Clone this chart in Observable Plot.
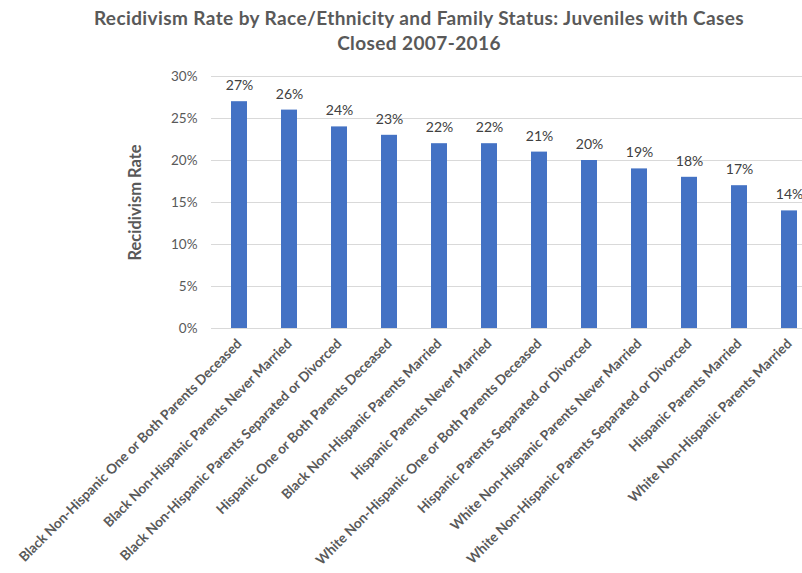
<!DOCTYPE html>
<html>
<head>
<meta charset="utf-8">
<script src="https://cdn.jsdelivr.net/npm/d3@7"></script>
<script src="https://cdn.jsdelivr.net/npm/@observablehq/plot@0.6"></script>
<style>
  html, body { margin: 0; padding: 0; background: #fff; overflow: hidden; width: 802px; height: 573px; }
  #title { font-family: Lato, "Open Sans", sans-serif; font-weight: bold; font-size: 19px; letter-spacing: 0.4px; color: #595959;
           text-align: center; line-height: 25px; padding-top: 5px; padding-left: 36px; height: 50px; box-sizing: content-box; white-space: nowrap; }
  #chart svg { overflow: visible; }
</style>
</head>
<body>
<div id="title">Recidivism Rate by Race/Ethnicity and Family Status: Juveniles with Cases<br>Closed 2007-2016</div>
<div id="chart"></div>
<script>
const categories = [
  "Black Non-Hispanic One or Both Parents Deceased",
  "Black Non-Hispanic Parents Never Married",
  "Black Non-Hispanic Parents Separated or Divorced",
  "Hispanic One or Both Parents Deceased",
  "Black Non-Hispanic Parents Married",
  "Hispanic Parents Never Married",
  "White Non-Hispanic One or Both Parents Deceased",
  "Hispanic Parents Separated or Divorced",
  "White Non-Hispanic Parents Never Married",
  "White Non-Hispanic Parents Separated or Divorced",
  "Hispanic Parents Married",
  "White Non-Hispanic Parents Married"
];
const rates = [0.27, 0.26, 0.24, 0.23, 0.22, 0.22, 0.21, 0.20, 0.19, 0.18, 0.17, 0.14];
const yTicks = [0, 0.05, 0.10, 0.15, 0.20, 0.25, 0.30];
const yLabel = "Recidivism Rate";

const data = categories.map((c, i) => ({category: c, rate: rates[i]}));
const pct = d3.format(".0%");

const chart = Plot.plot({
  width: 802,
  height: 518,
  marginLeft: 211,
  marginRight: 0,
  marginTop: 21,
  marginBottom: 245,
  style: {fontFamily: "Lato, 'Open Sans', sans-serif", background: "#fff", color: "#595959"},
  x: {domain: categories, range: [212, 815.6], paddingInner: 0.68, paddingOuter: 0.34, label: null},
  y: {domain: [0, 0.30], ticks: yTicks, label: null},
  marks: [
    Plot.ruleY(yTicks, {stroke: "#d9d9d9", strokeWidth: 1}),
    Plot.barY(data, {x: "category", y: "rate", fill: "#4472C4"}),
    Plot.text(data, {x: "category", y: "rate", text: d => pct(d.rate), dy: -16, fontSize: 14, fill: "#404040"}),
    Plot.axisY({ticks: yTicks, tickFormat: pct, tickSize: 0, tickPadding: 14, fontSize: 13.5, label: null, fill: "#595959"}),
    Plot.axisX({tickRotate: -45, tickSize: 0, tickPadding: 13, fontSize: 13.6, fontWeight: "bold", label: null, fill: "#595959"}),
    Plot.text([yLabel], {x: null, y: null, frameAnchor: "left", textAnchor: "middle", dx: -76, rotate: -90, text: d => d, fontSize: 16.5, fontWeight: "bold", fill: "#595959"})
  ]
});
document.getElementById("chart").appendChild(chart);
</script>
</body>
</html>
